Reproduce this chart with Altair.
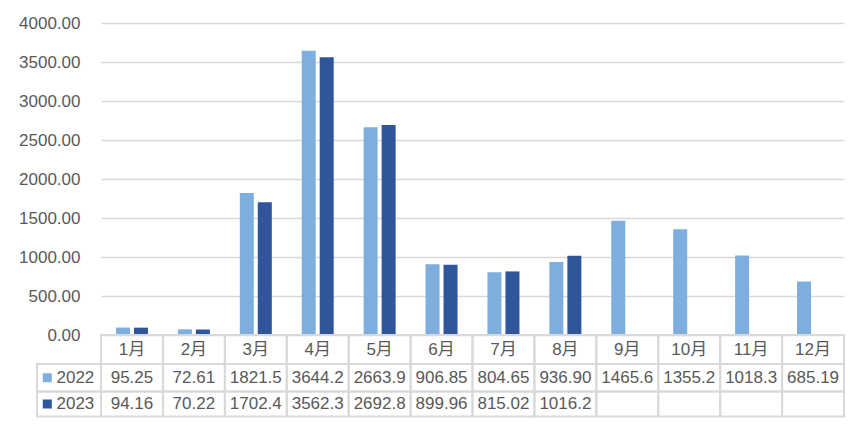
import altair as alt
import pandas as pd

months = ["1月", "2月", "3月", "4月", "5月", "6月", "7月", "8月", "9月", "10月", "11月", "12月"]
years = ["2022", "2023"]
v2022 = [95.25, 72.61, 1821.5, 3644.2, 2663.9, 906.85, 804.65, 936.90, 1465.6, 1355.2, 1018.3, 685.19]
v2023 = [94.16, 70.22, 1702.4, 3562.3, 2692.8, 899.96, 815.02, 1016.2, None, None, None, None]
colors = ["#7DAEDD", "#2F559B"]
y_ticks = [0, 500, 1000, 1500, 2000, 2500, 3000, 3500, 4000]

FONT = "Liberation Sans, Noto Sans CJK SC"
TXT = "#595959"
LINE = "#d9d9d9"

W, H = 743, 312
TH = 82


def fmt(v):
    if v is None:
        return ""
    return f"{v:.2f}"[:6]


# bar data
rows = []
for yr, vals in zip(years, [v2022, v2023]):
    for m, v in zip(months, vals):
        if v is not None:
            rows.append({"month": m, "year": yr, "value": v})
bar_df = pd.DataFrame(rows)

bars = alt.Chart(bar_df).mark_bar().encode(
    x=alt.X("month:N", sort=months,
            scale=alt.Scale(domain=months, paddingInner=0.483, paddingOuter=0.2415),
            axis=None),
    xOffset=alt.XOffset("year:N", scale=alt.Scale(domain=years, paddingInner=0.222)),
    y=alt.Y("value:Q", scale=alt.Scale(domain=[0, 4000]),
            axis=alt.Axis(values=y_ticks, format=".2f", title=None, domain=False,
                          ticks=False, labelPadding=21, labelFontSize=17,
                          labelColor=TXT, labelFont=FONT, gridColor=LINE,
                          gridWidth=1.5)),
    color=alt.Color("year:N", scale=alt.Scale(domain=years, range=colors), legend=None),
).properties(width=W, height=H)

# table data (layout in column units)
unit = W / 12
leg_x0 = (36 - 100) / unit
edges = [0, 29, 56.5, 81.5]
cells = []
texts = []
for i, m in enumerate(months):
    cells.append({"x0": i, "x1": i + 1, "y0": edges[0], "y1": edges[1]})
    texts.append({"x": i + 0.5, "y": (edges[0] + edges[1]) / 2, "t": m})
legend_rows = []
for r, (yr, vals) in enumerate(zip(years, [v2022, v2023])):
    y0, y1 = edges[r + 1], edges[r + 2]
    cells.append({"x0": leg_x0, "x1": 0, "y0": y0, "y1": y1})
    legend_rows.append({"year": yr, "sx": leg_x0 + (46.3 - 36) / unit,
                        "tx": leg_x0 + (55.5 - 36) / unit, "y": (y0 + y1) / 2})
    for i, v in enumerate(vals):
        cells.append({"x0": i, "x1": i + 1, "y0": y0, "y1": y1})
        texts.append({"x": i + 0.5, "y": (y0 + y1) / 2, "t": fmt(v)})
cell_df = pd.DataFrame(cells)
text_df = pd.DataFrame(texts)
leg_df = pd.DataFrame(legend_rows)

xs = alt.Scale(domain=[0, 12])
ys = alt.Scale(domain=[0, TH], reverse=True)

grid = alt.Chart(cell_df).mark_rect(filled=False, stroke=LINE, strokeWidth=2).encode(
    x=alt.X("x0:Q", scale=xs, axis=None), x2="x1:Q",
    y=alt.Y("y0:Q", scale=ys, axis=None), y2="y1:Q",
)
cell_text = alt.Chart(text_df).mark_text(font=FONT, fontSize=17, color=TXT,
                                         align="center", baseline="middle").encode(
    x=alt.X("x:Q", scale=xs, axis=None),
    y=alt.Y("y:Q", scale=ys, axis=None),
    text="t:N",
)
leg_sq = alt.Chart(leg_df).mark_point(shape="square", filled=True, size=81, opacity=1).encode(
    x=alt.X("sx:Q", scale=xs, axis=None),
    y=alt.Y("y:Q", scale=ys, axis=None),
    color=alt.Color("year:N", scale=alt.Scale(domain=years, range=colors), legend=None),
)
leg_text = alt.Chart(leg_df).mark_text(font=FONT, fontSize=17, color=TXT,
                                       align="left", baseline="middle").encode(
    x=alt.X("tx:Q", scale=xs, axis=None),
    y=alt.Y("y:Q", scale=ys, axis=None),
    text="year:N",
)
table = alt.layer(grid, cell_text, leg_sq, leg_text).properties(width=W, height=TH)

chart = alt.vconcat(bars, table, spacing=0, bounds="flush").resolve_scale(
    color="independent"
).properties(
    padding={"left": 10, "top": 6, "right": 5, "bottom": 5}
).configure_view(stroke=None)

chart.save("out.html", embed_options={"renderer": "svg", "actions": False})
